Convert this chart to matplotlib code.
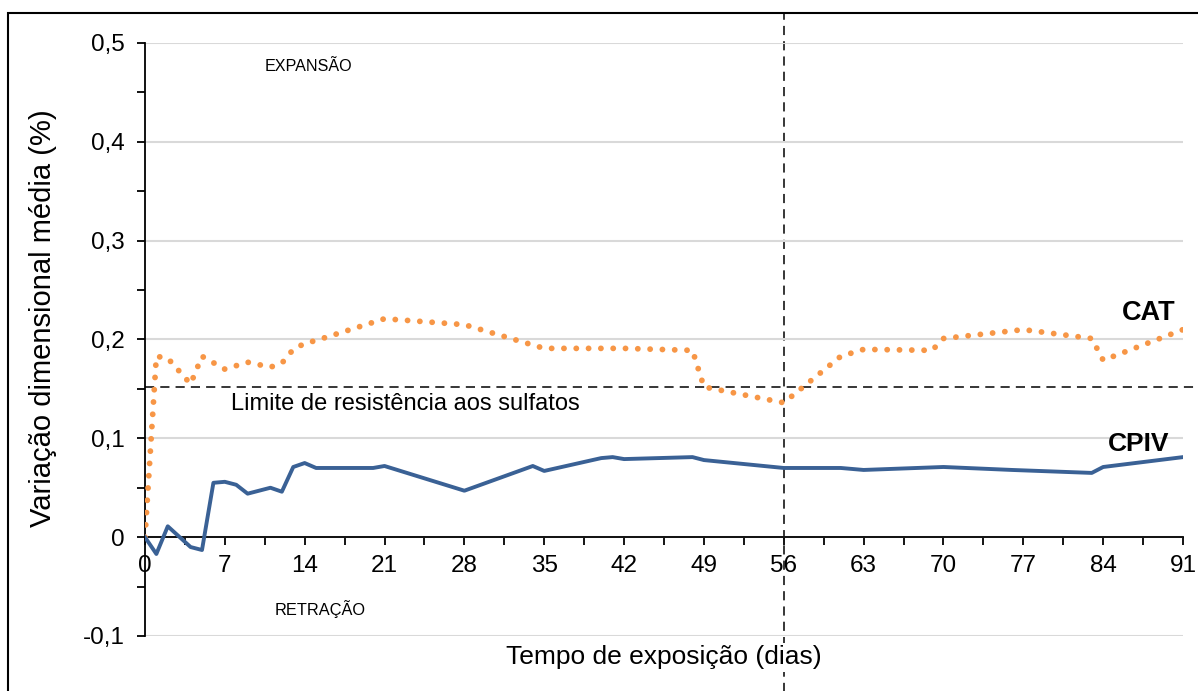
import numpy as np
import matplotlib
matplotlib.use('Agg')
import matplotlib.pyplot as plt
from matplotlib.ticker import MultipleLocator, FuncFormatter
from matplotlib.patches import Rectangle

plt.rcParams['font.family'] = ['Liberation Sans', 'DejaVu Sans']

## Dados
dias_cpiv = [0, 1, 2, 4, 5, 6, 7, 8, 9, 11, 12, 13, 14, 15, 20, 21, 28, 34, 35, 40, 41, 42, 48, 49,
             56, 61, 63, 70, 76, 83, 84, 91]
var_cpiv = [0.0, -0.017, 0.011, -0.010, -0.013, 0.055, 0.056, 0.053, 0.044, 0.050, 0.046, 0.071,
            0.075, 0.070, 0.070, 0.072, 0.047, 0.072, 0.067, 0.080, 0.081, 0.079, 0.081, 0.078,
            0.070, 0.070, 0.068, 0.071, 0.068, 0.065, 0.071, 0.081]

dias_cat = [0, 1, 2, 4, 5, 7, 9, 11, 12, 13, 14, 15, 21, 28, 35, 42, 48, 49, 56, 61, 63, 69, 70,
            77, 83, 84, 91]
var_cat = [0.0, 0.183, 0.181, 0.155, 0.183, 0.170, 0.177, 0.172, 0.176, 0.190, 0.196, 0.199,
           0.221, 0.215, 0.191, 0.191, 0.189, 0.152, 0.136, 0.183, 0.190, 0.189, 0.201,
           0.210, 0.201, 0.179, 0.210]

limite = 0.152
dia_limite = 56

fig = plt.figure(figsize=(11.98, 6.91), dpi=100)
ax = fig.add_axes([0.121, 0.0796, 0.8665, 0.8582])

ax.plot(dias_cat, var_cat, color='#F79646', linewidth=4.2,
        linestyle=(0, (0.01, 2.1)), dash_capstyle='round', zorder=4)
ax.plot(dias_cpiv, var_cpiv, color='#3A6195', linewidth=2.8, zorder=5)

# linhas de referencia (tracejadas)
ax.plot([0, 92.3], [limite, limite], color='black', linewidth=1.1,
        linestyle=(0, (6, 4)), clip_on=False, zorder=3)
ax.plot([dia_limite, dia_limite], [-0.16, 0.531], color='black', linewidth=1.1,
        linestyle=(0, (6, 4)), clip_on=False, zorder=0.4)

ax.set_xlim(0, 91)
ax.set_ylim(-0.1, 0.5)
ax.xaxis.set_major_locator(MultipleLocator(7))
ax.xaxis.set_minor_locator(MultipleLocator(3.5))
ax.yaxis.set_major_locator(MultipleLocator(0.1))
ax.yaxis.set_minor_locator(MultipleLocator(0.05))
ax.yaxis.set_major_formatter(FuncFormatter(lambda v, p: ('%g' % round(v, 2)).replace('.', ',')))

ax.spines['top'].set_visible(False)
ax.spines['right'].set_visible(False)
ax.spines['bottom'].set_position(('data', 0))
ax.spines['left'].set_linewidth(1.3)
ax.spines['bottom'].set_linewidth(1.3)
ax.tick_params(axis='both', which='both', direction='out', length=5.5, width=1.3, labelsize=17.5)
ax.tick_params(axis='x', which='major', pad=7)
ax.tick_params(axis='y', which='major', pad=9)
ax.grid(axis='y', which='major', color='#D9D9D9', linewidth=1.5)
ax.set_axisbelow(True)

ax.set_xlabel('Tempo de exposição (dias)', fontsize=19,
              bbox=dict(facecolor='white', edgecolor='none', pad=2))
ax.set_ylabel('Variação dimensional média (%)', fontsize=21)
ax.xaxis.set_label_coords(0.5, -0.016)
ax.yaxis.set_label_coords(-0.085, 0.536)

ax.text(7.5, 0.1345, 'Limite de resistência aos sulfatos', fontsize=17, va='center', ha='left')
ax.text(10.5, 0.476, 'EXPANSÃO', fontsize=11.6, va='center', ha='left')
ax.text(11.4, -0.073, 'RETRAÇÃO', fontsize=11.8, va='center', ha='left')
ax.text(90.3, 0.227, 'CAT', fontsize=19.5, fontweight='bold', va='center', ha='right')
ax.text(89.8, 0.094, 'CPIV', fontsize=19, fontweight='bold', va='center', ha='right')

fig.patches.append(Rectangle((8 / 1198, -0.01), 1.0, 1 - 13 / 691 + 0.01, transform=fig.transFigure,
                             fill=False, edgecolor='black', linewidth=1.5))

fig.savefig('out.png', dpi=100)
